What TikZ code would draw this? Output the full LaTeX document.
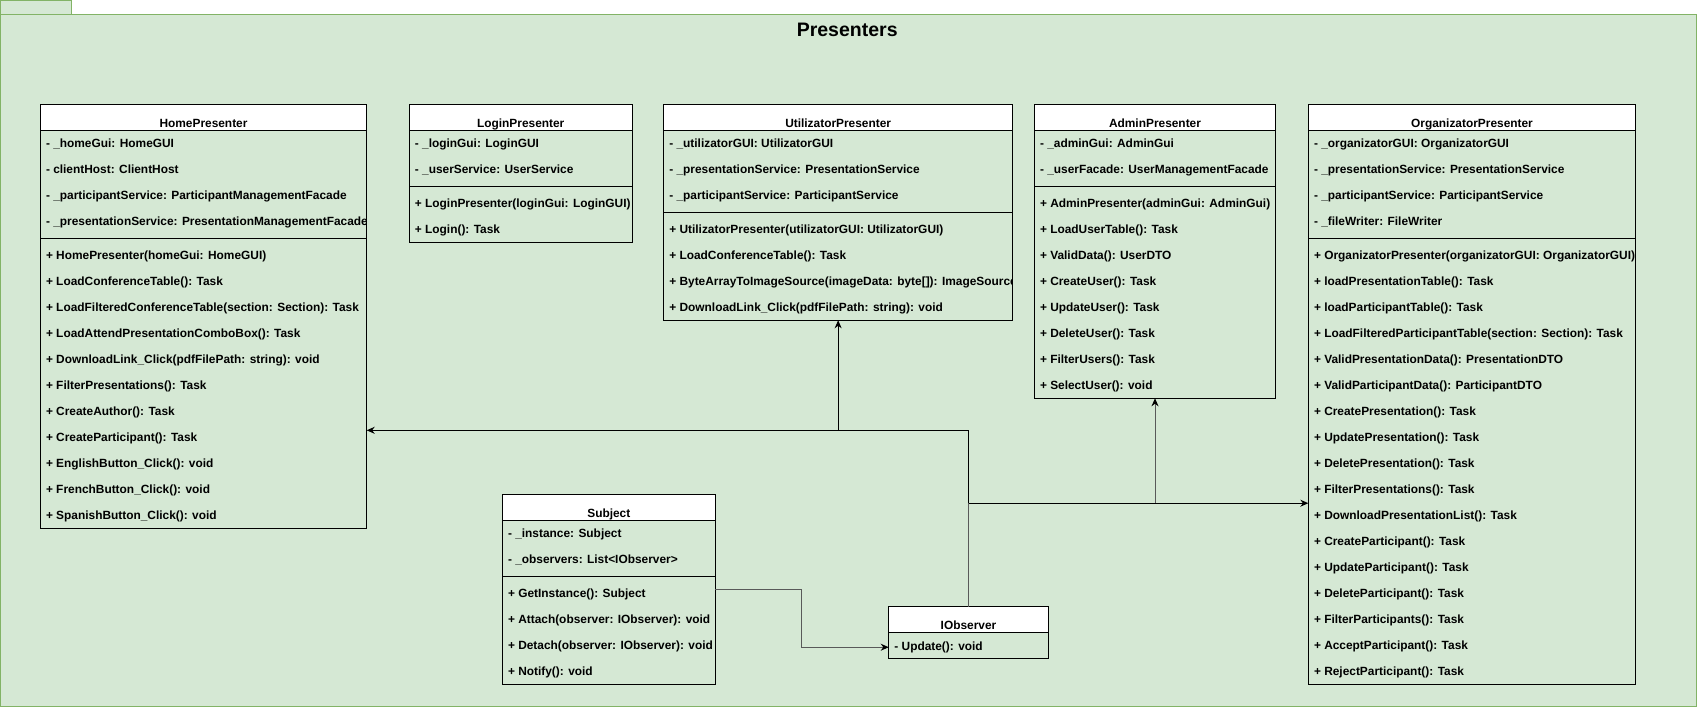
\documentclass[tikz,border=0pt]{standalone}
\usepackage{fontspec}
\setmainfont{Liberation Sans}
\usetikzlibrary{arrows.meta,calc}
\definecolor{pkgfill}{HTML}{D5E8D4}
\definecolor{pkgline}{HTML}{82B366}

\tikzset{
  pkgshape/.style={draw=pkgline, fill=pkgfill, line width=1pt},
  classbody/.style={draw=black, line width=1pt, inner sep=0pt, outer sep=0pt},
  classhead/.style={draw=black, fill=white, line width=1pt, inner sep=0pt, outer sep=0pt},
  headtext/.style={font=\bfseries\fontsize{11.9}{14}\selectfont, inner sep=0pt},
  rowtext/.style={font=\bfseries\fontsize{11.9}{14}\selectfont, inner sep=0pt},
  divider/.style={draw=black, line width=1pt},
  arr/.style={draw=black, line width=1pt, -{Stealth[length=8pt,width=7pt]}},
  grayarr/.style={draw=black!65, line width=1pt, -{Stealth[length=8pt,width=7pt,color=black]}},
  titletext/.style={font=\bfseries\fontsize{19.5}{22}\selectfont, inner sep=0pt}
}

% #1 name, #2 x, #3 y, #4 width, #5 number of attributes, #6 number of methods,
% #7 title, #8 attributes, #9 methods
\newcommand{\umlclass}[9]{%
  \pgfmathsetmacro{\hA}{26+26*#5}%
  \pgfmathsetmacro{\hT}{#6>0 ? \hA+8+26*#6 : \hA}%
  \node[classbody, minimum width=#4, minimum height=\hT, anchor=north west] (#1) at (#2,#3) {};
  \node[classhead, minimum width=#4, minimum height=26, anchor=north west] (#1-h) at (#2,#3) {};
  \begin{scope}
    \clip (#2,#3) rectangle ++(#4,\hT);
    \node[headtext, anchor=base] (#1-t) at ($(#1-h.north)+(0,22.8)$) {#7};
    \foreach \t [count=\i] in {#8} {
      \node[rowtext, anchor=base west] (#1-a\i) at ({#2+5.5},{#3+26*\i+17.6}) {\t};
    }
    \ifnum#6>0
    \foreach \t [count=\j] in {#9} {
      \node[rowtext, anchor=base west] (#1-m\j) at ({#2+5.5},{#3+26*#5+8+26*\j+17.6}) {\t};
    }
    \fi
  \end{scope}
  \ifnum#6>0
    \draw[divider] (#2,{#3+\hA+4}) -- ++(#4,0);
  \fi
}

\begin{document}
\begin{tikzpicture}[x=1pt,y=-1pt]
\useasboundingbox (0,0) rectangle (1697,707);

% package frame
\draw[pkgshape] (0.5,0.5) rectangle (71,14.3);
\draw[pkgshape] (0.5,14.3) rectangle (1696.3,706.3);
\node[titletext, anchor=base] (title) at (847.2,36) {Presenters};

\umlclass{home}{40.3}{104.3}{326.4}{4}{11}{HomePresenter}%
{{- \_homeGui: HomeGUI},{- clientHost: ClientHost},{- \_participantService: ParticipantManagementFacade},{- \_presentationService: PresentationManagementFacade}}%
{{+ HomePresenter(homeGui: HomeGUI)},{+ LoadConferenceTable(): Task},{+ LoadFilteredConferenceTable(section: Section): Task},{+ LoadAttendPresentationComboBox(): Task},{+ DownloadLink\_Click(pdfFilePath: string): void},{+ FilterPresentations(): Task},{+ CreateAuthor(): Task},{+ CreateParticipant(): Task},{+ EnglishButton\_Click(): void},{+ FrenchButton\_Click(): void},{+ SpanishButton\_Click(): void}}

\umlclass{login}{409.2}{104.3}{223}{2}{2}{LoginPresenter}%
{{- \_loginGui: LoginGUI},{- \_userService: UserService}}%
{{+ LoginPresenter(loginGui: LoginGUI)},{+ Login(): Task}}

\umlclass{util}{663.6}{104.3}{349.1}{3}{4}{UtilizatorPresenter}%
{{- \_utilizatorGUI: UtilizatorGUI},{- \_presentationService: PresentationService},{- \_participantService: ParticipantService}}%
{{+ UtilizatorPresenter(utilizatorGUI: UtilizatorGUI)},{+ LoadConferenceTable(): Task},{+ ByteArrayToImageSource(imageData: byte[]): ImageSource},{+ DownloadLink\_Click(pdfFilePath: string): void}}

\umlclass{admin}{1034.3}{104.3}{241.4}{2}{8}{AdminPresenter}%
{{- \_adminGui: AdminGui},{- \_userFacade: UserManagementFacade}}%
{{+ AdminPresenter(adminGui: AdminGui)},{+ LoadUserTable(): Task},{+ ValidData(): UserDTO},{+ CreateUser(): Task},{+ UpdateUser(): Task},{+ DeleteUser(): Task},{+ FilterUsers(): Task},{+ SelectUser(): void}}

\umlclass{org}{1308.3}{104.3}{327.4}{4}{17}{OrganizatorPresenter}%
{{- \_organizatorGUI: OrganizatorGUI},{- \_presentationService: PresentationService},{- \_participantService: ParticipantService},{- \_fileWriter: FileWriter}}%
{{+ OrganizatorPresenter(organizatorGUI: OrganizatorGUI)},{+ loadPresentationTable(): Task},{+ loadParticipantTable(): Task},{+ LoadFilteredParticipantTable(section: Section): Task},{+ ValidPresentationData(): PresentationDTO},{+ ValidParticipantData(): ParticipantDTO},{+ CreatePresentation(): Task},{+ UpdatePresentation(): Task},{+ DeletePresentation(): Task},{+ FilterPresentations(): Task},{+ DownloadPresentationList(): Task},{+ CreateParticipant(): Task},{+ UpdateParticipant(): Task},{+ DeleteParticipant(): Task},{+ FilterParticipants(): Task},{+ AcceptParticipant(): Task},{+ RejectParticipant(): Task}}

\umlclass{subj}{502.3}{494.3}{213}{2}{4}{Subject}%
{{- \_instance: Subject},{- \_observers: List<IObserver>}}%
{{+ GetInstance(): Subject},{+ Attach(observer: IObserver): void},{+ Detach(observer: IObserver): void},{+ Notify(): void}}

\umlclass{iobs}{888.7}{606.7}{159.6}{1}{0}{IObserver}%
{{- Update(): void}}{}

% connectors
\coordinate (j1) at (968.5,430.3);
\coordinate (j2) at (968.5,503.2);
\coordinate (s1) at (801.7,589.5);

\draw[arr] (iobs.north) -- (j1) -- (home.east |- j1);
\draw[arr] (j1) -| (util.south);
\draw[grayarr] (iobs.north) -- (j2) -| (admin.south);
\draw[arr] (j2) -- (org.west |- j2);
\draw[grayarr] (subj.east |- s1) -- (s1) |- (iobs.west |- iobs-a1);

\end{tikzpicture}
\end{document}
